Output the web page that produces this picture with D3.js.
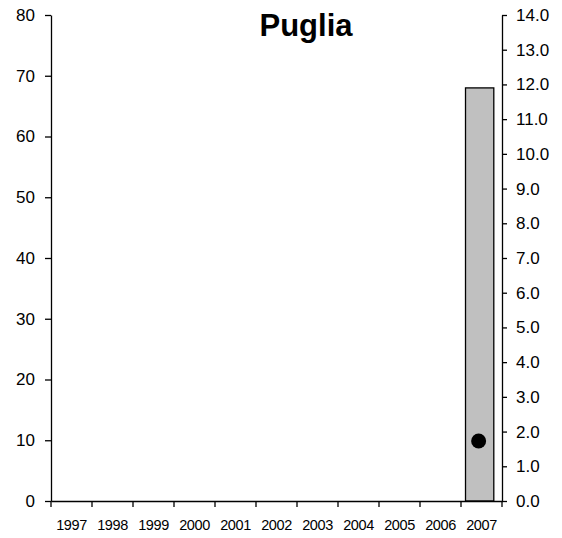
<!DOCTYPE html>
<html>
<head>
<meta charset="utf-8">
<script src="https://cdn.jsdelivr.net/npm/d3@7"></script>
<style>
  body { margin: 0; background: #fff; }
  text { font-family: "Liberation Sans", Arial, sans-serif; fill: #000; }
</style>
</head>
<body>
<div id="chart"></div>
<script>
const years = ['1997', '1998', '1999', '2000', '2001', '2002', '2003', '2004', '2005', '2006', '2007']
const barValues = [null, null, null, null, null, null, null, null, null, null, 68]
const dotValues = [null, null, null, null, null, null, null, null, null, null, 1.73]
const leftTicks = [0, 10, 20, 30, 40, 50, 60, 70, 80]
const rightTicks = [0, 1, 2, 3, 4, 5, 6, 7, 8, 9, 10, 11, 12, 13, 14]

const margin = { top: 15, left: 51, right: 60, bottom: 37 }
const width = 562 - margin.left - margin.right
const height = 538 - margin.top - margin.bottom

const svg = d3
  .select('#chart')
  .append('svg')
  .attr('width', 562)
  .attr('height', 538)
  .append('g')
  .attr('transform', 'translate(' + margin.left + ',' + margin.top + ')')

const xScale = d3.scaleBand().domain(years).range([0, width]).paddingInner(0).paddingOuter(0)
const yLeft = d3.scaleLinear().domain([0, 80]).range([height, 0])
const yRight = d3.scaleLinear().domain([0, 14]).range([height, 0])

// bars
svg
  .selectAll('.bar')
  .data(years.map((y, i) => ({ year: y, value: barValues[i] })).filter(d => d.value != null))
  .enter()
  .append('rect')
  .attr('class', 'bar')
  .attr('x', d => xScale(d.year) + xScale.bandwidth() * 0.11)
  .attr('width', xScale.bandwidth() * 0.69)
  .attr('y', d => yLeft(d.value))
  .attr('height', d => height - yLeft(d.value))
  .attr('fill', '#c0c0c0')
  .attr('stroke', '#000')
  .attr('stroke-width', 1.3)

// dots
svg
  .selectAll('.dot')
  .data(years.map((y, i) => ({ year: y, value: dotValues[i] })).filter(d => d.value != null))
  .enter()
  .append('circle')
  .attr('class', 'dot')
  .attr('cx', d => xScale(d.year) + xScale.bandwidth() * 0.43)
  .attr('cy', d => yRight(d.value))
  .attr('r', 7.5)
  .attr('fill', '#000')

// left axis
const leftAxis = svg.append('g')
  .call(d3.axisLeft(yLeft).tickValues(leftTicks).tickSize(6).tickSizeOuter(0).tickPadding(10))
leftAxis.selectAll('text').style('font-size', '17px')

// right axis
const rightAxis = svg.append('g')
  .attr('transform', 'translate(' + width + ',0)')
  .call(d3.axisRight(yRight).tickValues(rightTicks).tickFormat(d3.format('.1f')).tickSize(5).tickSizeOuter(0).tickPadding(9))
rightAxis.selectAll('text').style('font-size', '17px')

// x axis
const xAxis = svg.append('g')
  .attr('transform', 'translate(0,' + height + ')')
  .call(d3.axisBottom(xScale).tickSize(0).tickPadding(19))
xAxis.selectAll('text').style('font-size', '14.5px').style('letter-spacing', '-0.4px')
xAxis.selectAll('.boundary')
  .data(d3.range(years.length + 1))
  .enter()
  .append('line')
  .attr('class', 'boundary')
  .attr('x1', i => i * xScale.step())
  .attr('x2', i => i * xScale.step())
  .attr('y1', 0)
  .attr('y2', 6)
  .attr('stroke', '#000')
  .attr('stroke-width', 1.3)

svg.selectAll('.domain').attr('stroke', '#000').attr('stroke-width', 1.3)
svg.selectAll('.tick line').attr('stroke', '#000').attr('stroke-width', 1.3)

// title
svg.append('text')
  .attr('x', 255)
  .attr('y', 21)
  .attr('text-anchor', 'middle')
  .style('font-size', '31px')
  .style('font-weight', 'bold')
  .text('Puglia')
</script>
</body>
</html>
